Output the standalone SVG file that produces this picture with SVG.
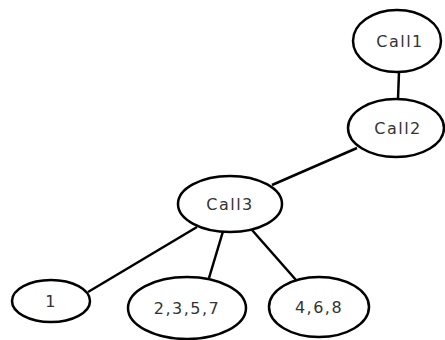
<svg xmlns="http://www.w3.org/2000/svg" width="445" height="340" viewBox="0 0 445 340">
<style>
.n{fill:#fff;stroke:#000;stroke-width:2.5}
.t{font-family:"DejaVu Sans",sans-serif;font-size:16px;letter-spacing:1.5px;fill:#333;text-anchor:middle;dominant-baseline:central}
.e{stroke:#000;stroke-width:2.5;fill:none}
</style>
<rect width="445" height="340" fill="#fff"/>
<g id="edges">
<line class="e" x1="399" y1="72" x2="398" y2="99"/>
<line class="e" x1="357" y1="148" x2="272" y2="185"/>
<line class="e" x1="197" y1="227" x2="88" y2="292"/>
<line class="e" x1="224" y1="228" x2="209" y2="278"/>
<line class="e" x1="252" y1="230" x2="296" y2="280"/>
</g>
<g id="call1"><ellipse class="n" cx="397" cy="41" rx="44" ry="31"/><text class="t" x="400" y="41">Call1</text></g>
<g id="call2"><ellipse class="n" cx="396" cy="128" rx="48" ry="29"/><text class="t" x="398" y="128">Call2</text></g>
<g id="call3"><ellipse class="n" cx="230" cy="204" rx="52" ry="28"/><text class="t" x="230" y="204">Call3</text></g>
<g id="n1"><ellipse class="n" cx="51" cy="301" rx="39" ry="21"/><text class="t" x="51" y="301">1</text></g>
<g id="n2"><ellipse class="n" cx="187" cy="308" rx="59" ry="31"/><text class="t" x="187" y="308">2,3,5,7</text></g>
<g id="n3"><ellipse class="n" cx="319" cy="307" rx="50" ry="30"/><text class="t" x="319" y="307">4,6,8</text></g>
</svg>
